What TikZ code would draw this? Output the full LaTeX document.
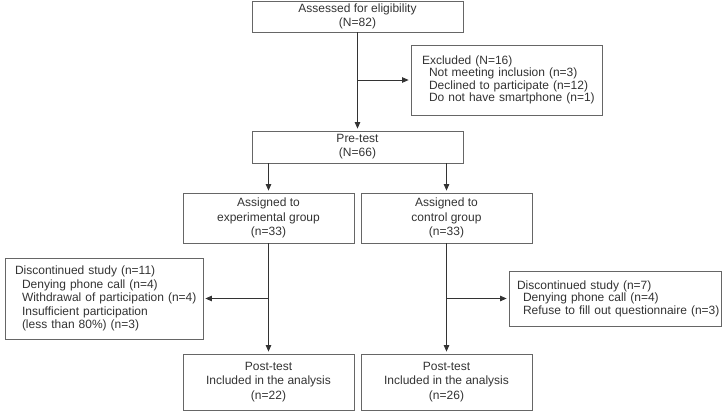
\documentclass[tikz,border=0pt]{standalone}
\usepackage{fontspec}
\setmainfont{Liberation Sans}
\usetikzlibrary{arrows.meta}
\newcommand{\itemline}[2]{\hspace*{#1}\mbox{#2}}
\begin{document}
\begin{tikzpicture}[x=1pt, y=-1pt,
    font=\fontsize{12}{14.2}\selectfont, text=black!80,
    box/.style={draw=black!60, line width=0.8pt, inner sep=0pt, align=center},
    listbox/.style={draw=black!60, line width=0.8pt, inner ysep=0pt, inner xsep=2pt, align=left},
    arr/.style={draw=black!80, line width=0.8pt, -{Triangle[length=6.5pt,width=5.5pt]}, shorten >=2pt}]
            \useasboundingbox (0,0) rectangle (722,413);
            % Nodes with manual coordinates
            \node[box, minimum width=211pt, minimum height=31pt] (assess) at (357.5,16.5) {Assessed for eligibility\\(N=82)};
            \node[listbox, text width=187pt, minimum height=70pt, font=\fontsize{12}{12.3}\selectfont] (excl) at (506.5,80)
                {\itemline{9pt}{Excluded (N=16)}\\\itemline{16pt}{Not meeting inclusion (n=3)}\\\itemline{16pt}{Declined to participate (n=12)}\\\itemline{16pt}{Do not have smartphone (n=1)}};
            \node[box, minimum width=211pt, minimum height=32pt] (pre) at (357.5,147) {Pre-test\\(N=66)};
            \node[box, minimum width=171pt, minimum height=50pt] (asgE) at (268.5,218) {Assigned to\\experimental group\\(n=33)};
            \node[box, minimum width=171pt, minimum height=50pt] (asgC) at (446.5,218) {Assigned to\\control group\\(n=33)};
            \node[listbox, text width=194pt, minimum height=81pt, font=\fontsize{12}{13.6}\selectfont] (discE) at (104,298.5)
                {\itemline{8pt}{Discontinued study (n=11)}\\\itemline{15pt}{Denying phone call (n=4)}\\\itemline{15pt}{Withdrawal of participation (n=4)}\\\itemline{15pt}{Insufficient participation}\\\itemline{15pt}{(less than 80\%) (n=3)}};
            \node[listbox, text width=208pt, minimum height=55pt, font=\fontsize{12}{12.5}\selectfont] (discC) at (615,298.5)
                {\itemline{6pt}{Discontinued study (n=7)}\\\itemline{12pt}{Denying phone call (n=4)}\\\itemline{12pt}{Refuse to fill out questionnaire (n=3)}};
            \node[box, minimum width=171pt, minimum height=56pt] (postE) at (268.5,382) {Post-test\\Included in the analysis\\(n=22)};
            \node[box, minimum width=171pt, minimum height=56pt] (postC) at (446.5,382) {Post-test\\Included in the analysis\\(n=26)};
            \coordinate (jExcl) at (357.5,80);
            \coordinate (jE) at (268.5,298.5);
            \coordinate (jC) at (446.5,298.5);

            % Edges
            \draw[arr] (assess) -- (pre);
            \draw[arr] (jExcl) -- (excl);
            \draw[arr] (pre.south -| asgE.north) -- (asgE);
            \draw[arr] (pre.south -| asgC.north) -- (asgC);
            \draw[arr] (asgE) -- (postE);
            \draw[arr] (asgC) -- (postC);
            \draw[arr] (jE) -- (discE);
            \draw[arr] (jC) -- (discC);
        \end{tikzpicture}
\end{document}
